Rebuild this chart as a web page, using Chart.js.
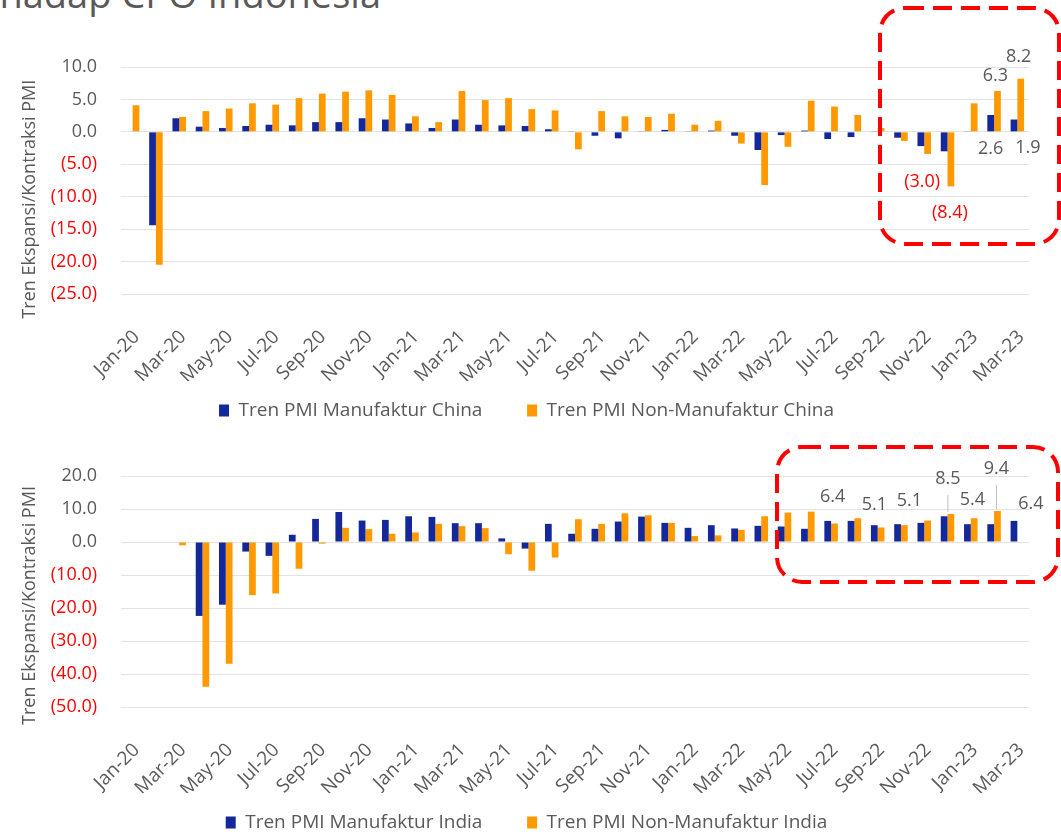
<!DOCTYPE html>
<html>
<head>
<meta charset="utf-8">
<script src="https://cdn.jsdelivr.net/npm/chart.js@4.4.0/dist/chart.umd.min.js"></script>
<style>
  html, body { margin: 0; padding: 0; background: #fff; }
  body { width: 1061px; height: 835px; overflow: hidden; position: relative; font-family: 'Open Sans', sans-serif; }
  #title { position: absolute; right: 680px; top: -26px; font-size: 38px; line-height: 38px; color: #595959; white-space: nowrap; }
  .chart-box { position: absolute; left: 0; width: 1061px; }
  #china-box { top: 0; height: 430px; }
  #india-box { top: 430px; height: 412px; }
  #marks { position: absolute; left: 0; top: 0; pointer-events: none; }
</style>
</head>
<body>
<div id="title">terhadap CPO Indonesia</div>
<div class="chart-box" id="china-box"><canvas id="china-chart"></canvas></div>
<div class="chart-box" id="india-box"><canvas id="india-chart"></canvas></div>
<svg id="marks" width="1061" height="835">
  <rect x="880" y="8" width="179" height="236" rx="25" fill="none" stroke="#FF0000" stroke-width="4" stroke-dasharray="19 9"/>
  <rect x="777" y="447" width="281" height="135" rx="25" fill="none" stroke="#FF0000" stroke-width="4" stroke-dasharray="19 9"/>
</svg>
<script>
// Months Jan-20 .. Mar-23
const months = [
  'Jan-20', 'Feb-20', 'Mar-20', 'Apr-20', 'May-20', 'Jun-20', 'Jul-20', 'Aug-20', 'Sep-20', 'Oct-20', 'Nov-20', 'Dec-20',
  'Jan-21', 'Feb-21', 'Mar-21', 'Apr-21', 'May-21', 'Jun-21', 'Jul-21', 'Aug-21', 'Sep-21', 'Oct-21', 'Nov-21', 'Dec-21',
  'Jan-22', 'Feb-22', 'Mar-22', 'Apr-22', 'May-22', 'Jun-22', 'Jul-22', 'Aug-22', 'Sep-22', 'Oct-22', 'Nov-22', 'Dec-22',
  'Jan-23', 'Feb-23', 'Mar-23'
];

// China PMI trend
const chinaManufaktur = [
  null, -14.4, 2.1, 0.8, 0.6, 0.9, 1.1, 1.0, 1.5, 1.5, 2.1, 1.9,
  1.3, 0.6, 1.9, 1.1, 1.0, 0.9, 0.4, 0.1, -0.6, -1.0, 0.1, 0.3,
  0.1, 0.2, -0.6, -2.8, -0.5, 0.2, -1.1, -0.8, 0.1, -0.9, -2.2, -3.0,
  0.1, 2.6, 1.9
];
const chinaNonManufaktur = [
  4.1, -20.5, 2.3, 3.2, 3.6, 4.4, 4.2, 5.2, 5.9, 6.2, 6.4, 5.7,
  2.4, 1.5, 6.3, 4.9, 5.2, 3.5, 3.3, -2.7, 3.2, 2.4, 2.3, 2.8,
  1.1, 1.7, -1.8, -8.2, -2.3, 4.8, 3.9, 2.6, 0.6, -1.4, -3.4, -8.4,
  4.4, 6.3, 8.2
];

// India PMI trend
const indiaManufaktur = [
  null, null, null, -22.4, -19.0, -2.9, -4.2, 2.2, 7.0, 9.1, 6.5, 6.7,
  7.8, 7.6, 5.7, 5.7, 1.1, -2.0, 5.5, 2.5, 4.0, 6.2, 7.7, 5.8,
  4.3, 5.1, 4.1, 4.9, 4.7, 4.0, 6.4, 6.4, 5.1, 5.4, 5.8, 7.8,
  5.4, 5.4, 6.4
];
const indiaNonManufaktur = [
  null, null, -1.0, -43.9, -36.9, -16.1, -15.6, -8.1, -0.5, 4.3, 3.9, 2.5,
  2.9, 5.5, 4.8, 4.2, -3.7, -8.7, -4.7, 6.9, 5.5, 8.7, 8.1, 5.8,
  1.8, 2.0, 3.7, 7.8, 8.9, 9.2, 5.6, 7.2, 4.4, 5.1, 6.5, 8.5,
  7.2, 9.4, null
];

const chinaYTicks = [10, 5, 0, -5, -10, -15, -20, -25];
const indiaYTicks = [20, 10, 0, -10, -20, -30, -40, -50];

const seriesNames = {
  china: ['Tren PMI Manufaktur China', 'Tren PMI Non-Manufaktur China'],
  india: ['Tren PMI Manufaktur India', 'Tren PMI Non-Manufaktur India']
};

// Which bars carry a value label, and where the label sits relative to the bar end
const chinaLabelPlacement = [
  { series: 0, month: 'Dec-22', dx: -22, dy: 31 },
  { series: 1, month: 'Dec-22', dx: -1, dy: 27 },
  { series: 0, month: 'Feb-23', dx: 0, dy: 34 },
  { series: 1, month: 'Feb-23', dx: -2, dy: -15 },
  { series: 0, month: 'Mar-23', dx: 14, dy: 28 },
  { series: 1, month: 'Mar-23', dx: -2, dy: -22 }
];
const indiaLabelPlacement = [
  { series: 0, month: 'Jul-22', dx: 5, dy: -24 },
  { series: 0, month: 'Sep-22', dx: 0, dy: -20 },
  { series: 1, month: 'Oct-22', dx: 5, dy: -24 },
  { series: 1, month: 'Dec-22', dx: -3, dy: -35, leader: true },
  { series: 0, month: 'Jan-23', dx: 5, dy: -24 },
  { series: 1, month: 'Feb-23', dx: -1, dy: -42, leader: true },
  { series: 0, month: 'Mar-23', dx: 17, dy: -17 }
];

const BLUE = '#15289B';
const ORANGE = '#FF9900';
const GREY = '#595959';
const RED = '#FF0000';

Chart.defaults.font.family = "'Open Sans', sans-serif";

function formatValue(v) {
  return v < 0 ? '(' + Math.abs(v).toFixed(1) + ')' : v.toFixed(1);
}

// Draws the few value labels (and their leader lines) on top of the bars
const valueLabels = {
  id: 'valueLabels',
  afterDatasetsDraw(chart, args, opts) {
    const ctx = chart.ctx;
    (opts.items || []).forEach(item => {
      const index = chart.data.labels.indexOf(item.month);
      const el = chart.getDatasetMeta(item.series).data[index];
      const value = chart.data.datasets[item.series].data[index];
      if (!el || value == null) return;
      const x = el.x + item.dx;
      const y = el.y + item.dy;
      ctx.save();
      if (item.leader) {
        ctx.strokeStyle = '#BFBFBF';
        ctx.lineWidth = 1;
        ctx.beginPath();
        ctx.moveTo(x, y + 16);
        ctx.lineTo(x, el.y - 2);
        ctx.stroke();
      }
      ctx.font = "18px 'Open Sans'";
      ctx.fillStyle = value < 0 ? RED : GREY;
      ctx.textAlign = 'center';
      ctx.textBaseline = 'middle';
      ctx.fillText(formatValue(value), x, y);
      ctx.restore();
    });
  }
};

// legend gap between the two entries, padded out with trailing spaces
const legendGap = '\u00A0'.repeat(5);

function buildChart(canvasId, cfg) {
  const ticks = cfg.yTicks;
  return new Chart(document.getElementById(canvasId), {
    type: 'bar',
    data: {
      labels: months,
      datasets: [
        { label: cfg.names[0] + legendGap, data: cfg.series[0], backgroundColor: BLUE, borderWidth: 0 },
        { label: cfg.names[1], data: cfg.series[1], backgroundColor: ORANGE, borderWidth: 0 }
      ]
    },
    plugins: [valueLabels],
    options: {
      responsive: true,
      maintainAspectRatio: false,
      animation: false,
      datasets: {
        bar: { categoryPercentage: 0.58, barPercentage: 1.0 }
      },
      layout: {
        padding: { top: cfg.top, left: 24, right: 32, bottom: 0 }
      },
      plugins: {
        legend: {
          position: 'bottom',
          labels: {
            boxWidth: 10,
            boxHeight: 12,
            padding: 20,
            color: GREY,
            font: { size: 19 }
          }
        },
        tooltip: { enabled: false },
        valueLabels: { items: cfg.labelPlacement }
      },
      scales: {
        x: {
          grid: { display: false },
          border: { display: false },
          afterFit: scale => { scale.height = cfg.xHeight; },
          ticks: {
            autoSkip: false,
            maxRotation: 45,
            minRotation: 45,
            padding: 24,
            labelOffset: 4,
            color: GREY,
            font: { size: 19 },
            callback: function(value, i) {
              return i % 2 === 0 ? this.getLabelForValue(value) : '';
            }
          }
        },
        y: {
          min: Math.min(...ticks),
          max: Math.max(...ticks),
          afterBuildTicks: scale => {
            scale.ticks = ticks.map(v => ({ value: v }));
          },
          afterFit: scale => { scale.width = 97; },
          grid: { color: '#E3E3E3', lineWidth: 1, drawTicks: false },
          border: { display: false },
          ticks: {
            padding: 24,
            font: { size: 18 },
            color: ctx => (ctx.tick && ctx.tick.value < 0 ? RED : GREY),
            callback: value => formatValue(value)
          },
          title: {
            display: true,
            text: 'Tren Ekspansi/Kontraksi PMI' + '\u00A0'.repeat(cfg.titleShift),
            color: GREY,
            font: { size: 18 },
            padding: { top: -5, bottom: 0 }
          }
        }
      }
    }
  });
}

buildChart('china-chart', {
  names: seriesNames.china,
  series: [chinaManufaktur, chinaNonManufaktur],
  yTicks: chinaYTicks,
  labelPlacement: chinaLabelPlacement,
  top: 67,
  xHeight: 87,
  titleShift: 8
});

buildChart('india-chart', {
  names: seriesNames.india,
  series: [indiaManufaktur, indiaNonManufaktur],
  yTicks: indiaYTicks,
  labelPlacement: indiaLabelPlacement,
  top: 46,
  xHeight: 86,
  titleShift: 6
});
</script>
</body>
</html>
